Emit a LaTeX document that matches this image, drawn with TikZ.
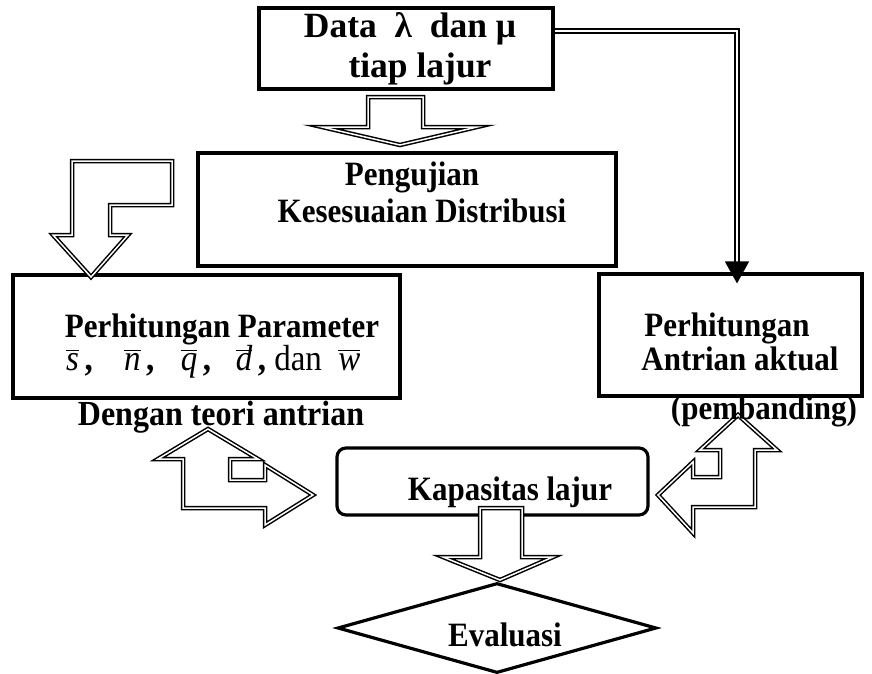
\documentclass[tikz,border=0pt]{standalone}
\usepackage{fontspec}
\usepackage{graphicx}
\setmainfont{Liberation Serif}
\usetikzlibrary{shapes.geometric,arrows.meta,calc}
\newcommand{\barit}[1]{\ensuremath{\overline{\mbox{\smash{\itshape #1}\rule{0pt}{0.5em}}}}}
\newcommand{\tall}[1]{\scalebox{1}[1.1]{#1}}
\begin{document}
\begin{tikzpicture}[x=1pt,y=-1pt,
  box/.style={draw, line width=3.2pt, inner sep=0pt},
  lbl/.style={font=\bfseries\fontsize{31}{36}\selectfont, anchor=base, inner sep=0pt},
  biglbl/.style={font=\bfseries\fontsize{35.5}{40}\selectfont, anchor=base, inner sep=0pt},
  blockarrow/.style={draw, double=white, double distance=1.5pt, line width=1.5pt, fill=white, line join=miter},
  dblline/.style={draw, double=white, double distance=2pt, line width=1.6pt}]
\fill[white] (0,0) rectangle (872,673);
\useasboundingbox (0,0) rectangle (872,673);

% boxes
\node[box, minimum width=294pt, minimum height=81pt] (data) at (406,48.5) {};
\node[box, line width=4.2pt, minimum width=418pt, minimum height=113pt] (test) at (407,209.5) {};
\node[box, minimum width=387pt, minimum height=123pt] (param) at (206.5,336.5) {};
\node[box, minimum width=263pt, minimum height=122pt] (actual) at (730.5,335) {};
\node[box, rounded corners=9pt, minimum width=311pt, minimum height=67pt] (cap) at (492.5,481.5) {};
\node[draw, line width=3.2pt, diamond, aspect=3.5, minimum width=319pt, minimum height=90pt, inner sep=0pt] (eval) at (497,628) {};

% double connector
\coordinate (bend) at (737,31);
\draw[dblline, -{Triangle[width=24pt,length=22pt]}] (data.east |- bend) -- (bend) -- ($(actual.north -| bend)+(0,11)$);

% block arrows
\draw[blockarrow] (368,97) -- (423,97) -- (423,127) -- (477,127) -- (400,145) -- (322,127) -- (368,127) -- cycle;
\draw[blockarrow] (72,161) -- (172,161) -- (172,205) -- (110,205) -- (110,235) -- (128,235) -- (91,277) -- (53,235) -- (72,235) -- cycle;
\draw[blockarrow] (208,429) -- (258,459) -- (230,459) -- (230,480) -- (265,480) -- (265,465) -- (313,495) -- (265,525) -- (265,508) -- (183,508) -- (183,459) -- (158,459) -- cycle;
\draw[blockarrow] (738,415) -- (777,450) -- (755,450) -- (755,507) -- (693,507) -- (693,533) -- (658,495) -- (693,462) -- (693,477) -- (720,477) -- (720,450) -- (700,450) -- cycle;
\draw[blockarrow] (480,508) -- (522,508) -- (522,557) -- (553,557) -- (500,580) -- (443,557) -- (480,557) -- cycle;

% labels
\node[biglbl] (t1) at (410,37) {Data\ \ λ\ \ dan μ};
\node[biglbl] (t2) at (420,77) {tiap lajur};
\node[lbl] (t3) at (412,185) {\tall{Pengujian}};
\node[lbl] (t4) at (422,222) {\tall{Kesesuaian Distribusi}};
\node[lbl] (t5) at (222,337) {\tall{Perhitungan Parameter}};
\node[anchor=base west, inner sep=0pt, font=\fontsize{33}{40}\selectfont] (t6) at (66,370)
  {\tall{\barit{s}\,\textbf{,}\hspace{0.95em}\barit{n}\,\textbf{,}\hspace{0.8em}\barit{q}\,\textbf{,}\hspace{0.75em}\barit{d}\,\textbf{,}\ dan\hspace{0.5em}\barit{w}}};
\node[lbl] (t7) at (221,425) {\tall{\fontsize{32}{36}\selectfont Dengan teori antrian}};
\node[lbl] (t8) at (727,336) {\tall{Perhitungan}};
\node[lbl] (t9) at (740,370) {\tall{Antrian aktual}};
\node[lbl] (t10) at (764,419) {\tall{(pembanding)}};
\node[lbl] (t11) at (510,500) {\tall{Kapasitas lajur}};
\node[lbl] (t12) at (505,646) {\tall{Evaluasi}};
\end{tikzpicture}
\end{document}
